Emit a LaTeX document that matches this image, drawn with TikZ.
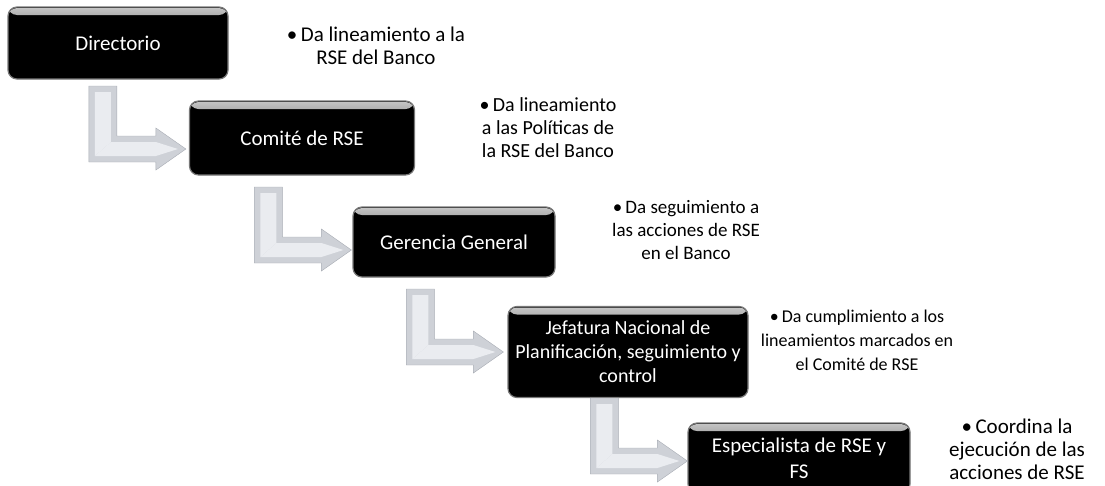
\documentclass[tikz,border=0pt]{standalone}
\usepackage{fontspec}
\setmainfont{Carlito}
\usetikzlibrary{positioning}

\definecolor{arrowfill}{RGB}{206,209,215}
\definecolor{arrowlite}{RGB}{234,236,240}
\definecolor{arrowedge}{RGB}{168,172,180}
\definecolor{boxrim}{RGB}{120,120,120}

\tikzset{
  rolebox/.style={draw=boxrim,line width=1.2pt,fill=black,rounded corners=9pt,
    text=white,align=center,inner sep=0pt,font=\fontsize{21}{24}\selectfont,
    path picture={\fill[top color=gray!45,bottom color=black]
      ([yshift=-1pt]path picture bounding box.north west) rectangle ([yshift=-8pt]path picture bounding box.north east);}},
  duty/.style={align=center,inner sep=0pt,font=\fontsize{21}{23}\selectfont},
  bentbody/.style={fill=arrowfill,draw=arrowedge,line width=0.4pt,line join=miter},
  bentlite/.style={fill=arrowlite,draw=none}
}

% L-shaped grey arrow, tip at coordinate #1
\newcommand{\bentarrow}[1]{%
  \draw[bentbody] ([shift={(-97,-63)}]#1) -- ([shift={(-69,-63)}]#1) -- ([shift={(-69,-13)}]#1)
    -- ([shift={(-30,-13)}]#1) -- ([shift={(-30,-21)}]#1) -- (#1) -- ([shift={(-30,21)}]#1)
    -- ([shift={(-30,13)}]#1) -- ([shift={(-97,13)}]#1) -- cycle;
  \fill[bentlite] ([shift={(-91,-57)}]#1) -- ([shift={(-75,-57)}]#1) -- ([shift={(-75,-7)}]#1)
    -- ([shift={(-91,7)}]#1) -- cycle;
  \fill[bentlite] ([shift={(-91,7)}]#1) -- ([shift={(-75,-7)}]#1) -- ([shift={(-30,-7)}]#1)
    -- ([shift={(-8,0)}]#1) -- ([shift={(-30,7)}]#1) -- cycle;
}

\begin{document}
\begin{tikzpicture}[x=1pt,y=-1pt]
  \useasboundingbox (0,0) rectangle (1105,485);

  \node (dir) at (118,43) [rolebox,minimum width=220pt,minimum height=72pt]{Directorio};
  \node (com) at (302,138)[rolebox,minimum width=225pt,minimum height=74pt]{Comité de RSE};
  \node (ger) at (454,242)[rolebox,minimum width=202pt,minimum height=70pt]{Gerencia General};
  \node (jef) at (628,352)[rolebox,minimum width=240pt,minimum height=91pt,font=\fontsize{20}{24}\selectfont]{Jefatura Nacional de\\Planificación, seguimiento y\\control};
  \node (esp) at (799,458)[rolebox,minimum width=222pt,minimum height=70pt,font=\fontsize{21}{26}\selectfont]{Especialista de RSE y\\FS};

  \coordinate (t2) at ([shift={(-3,11)}]com.west);
  \coordinate (t3) at ([shift={(-1,8)}]ger.west);
  \coordinate (t4) at ([shift={(-4,0)}]jef.west);
  \coordinate (t5) at ([shift={(0,3)}]esp.west);
  \bentarrow{t2}
  \bentarrow{t3}
  \bentarrow{t4}
  \bentarrow{t5}

  \node (d1) at (376,46) [duty]{\textbullet\,Da lineamiento a la\\RSE del Banco};
  \node (d2) at (548,128)[duty,font=\fontsize{20}{23}\selectfont]{\textbullet\,Da lineamiento\\a las Políticas de\\la RSE del Banco};
  \node (d3) at (686,230)[duty,font=\fontsize{19}{23}\selectfont]{\textbullet\,Da seguimiento a\\las acciones de RSE\\en el Banco};
  \node (d4) at (857,340)[duty,font=\fontsize{18}{24}\selectfont]{\textbullet\,Da cumplimiento a los\\lineamientos marcados en\\el Comité de RSE};
  \node (d5) at (1017,449)[duty]{\textbullet\,Coordina la\\ejecución de las\\acciones de RSE};
\end{tikzpicture}
\end{document}
